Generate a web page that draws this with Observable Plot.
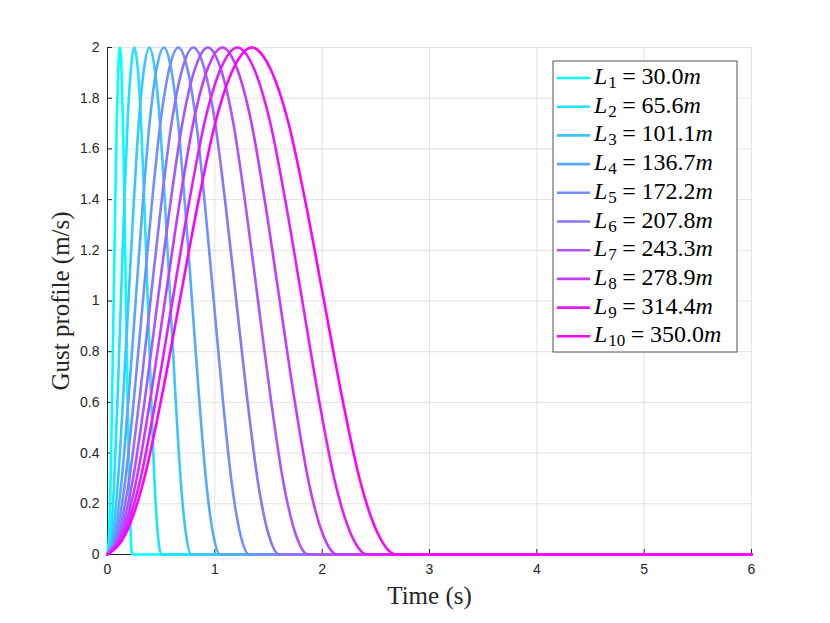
<!DOCTYPE html>
<html><head><meta charset="utf-8">
<script src="https://cdn.jsdelivr.net/npm/d3@7"></script>
<script src="https://cdn.jsdelivr.net/npm/@observablehq/plot@0.6"></script>
<style>body{margin:0;background:#fff}</style>
</head><body><div id="chart"></div>
<script>
// gust lengths (legend) and the time at which each pulse returns to zero
const gustLengths = [30.0, 65.6, 101.1, 136.7, 172.2, 207.8, 243.3, 278.9, 314.4, 350.0];
const gustDurations = [0.23, 0.50, 0.78, 1.05, 1.32, 1.60, 1.87, 2.14, 2.42, 2.69];
// shared pulse shape: fraction of duration -> gust value (m/s)
const profileFraction = [0, 0.0625, 0.125, 0.1875, 0.25, 0.3125, 0.375, 0.4375, 0.5, 0.5625, 0.625, 0.6875, 0.75, 0.8125, 0.875, 0.9375, 1];
const profileValue = [0, 0.08, 0.29, 0.62, 1.00, 1.38, 1.71, 1.92, 2.00, 1.92, 1.71, 1.38, 1.00, 0.62, 0.29, 0.08, 0];
const timeEnd = 6;
const seriesColors = ["#00ffff", "#1ce3ff", "#39c6ff", "#55aaff", "#718eff", "#8e71ff", "#aa55ff", "#c639ff", "#e31cff", "#ff00ff"];
const xTicks = [0, 1, 2, 3, 4, 5, 6];
const yTicks = [0, 0.2, 0.4, 0.6, 0.8, 1, 1.2, 1.4, 1.6, 1.8, 2];
const xLabel = "Time (s)";
const yLabel = "Gust profile (m/s)";

const rows = [];
gustLengths.forEach((L, i) => {
  profileFraction.forEach((f, j) => rows.push({t: f * gustDurations[i], v: profileValue[j], series: i}));
  rows.push({t: timeEnd, v: 0, series: i});
});

const serif = "'Liberation Serif', 'DejaVu Serif', serif";
const W = 830, H = 623, mL = 107, mR = 79, mT = 47, mB = 69;
const innerW = W - mL - mR, innerH = H - mT - mB;

const svg = Plot.plot({
  width: W, height: H,
  marginLeft: mL, marginRight: mR, marginTop: mT, marginBottom: mB,
  x: {domain: [0, timeEnd], label: null},
  y: {domain: [0, 2], label: null},
  color: {domain: d3.range(gustLengths.length), range: seriesColors},
  style: {fontFamily: "'Liberation Sans', Arial, sans-serif", fontSize: "14px", color: "#262626", background: "#fff"},
  marks: [
    Plot.gridX(xTicks, {stroke: "#262626", strokeOpacity: 0.13}),
    Plot.gridY(yTicks, {stroke: "#262626", strokeOpacity: 0.13}),
    Plot.axisX(xTicks, {tickSize: 0, tickPadding: 10, fill: "#262626", tickFormat: d => String(d)}),
    Plot.axisY(yTicks, {tickSize: 0, tickPadding: 8, fill: "#262626", tickFormat: d => String(d)}),
    Plot.tickX(xTicks, {x: d => d, insetTop: innerH - 5, stroke: "#262626"}),
    Plot.tickY(yTicks, {y: d => d, insetRight: innerW - 5, stroke: "#262626"}),
    Plot.ruleX([0], {stroke: "#262626"}),
    Plot.ruleY([0], {stroke: "#262626"}),
    Plot.line(rows, {x: "t", y: "v", z: "series", stroke: "series", strokeWidth: 2.6, curve: "monotone-x"}),
    Plot.text([xLabel], {frameAnchor: "bottom", lineAnchor: "middle", textAnchor: "middle", dy: 41, fontFamily: serif, fontSize: 25, fill: "#262626"}),
    Plot.text([yLabel], {frameAnchor: "left", lineAnchor: "middle", textAnchor: "middle", dx: -47, rotate: -90, fontFamily: serif, fontSize: 25, fill: "#262626"})
  ]
});

// tick labels at MATLAB size
d3.select(svg).selectAll("g[aria-label$='tick label']").attr("font-size", 14).style("font-size", "14px");

// legend (MATLAB-style box, top-right)
const lg = d3.select(svg).append("g").attr("transform", "translate(553,61)").attr("text-anchor", "start");
lg.append("rect").attr("width", 184).attr("height", 291).attr("fill", "#fff").attr("stroke", "#262626").attr("stroke-width", 0.8);
gustLengths.forEach((L, i) => {
  const y = 17 + i * 28.7;
  lg.append("line").attr("x1", 4).attr("x2", 37).attr("y1", y).attr("y2", y)
    .attr("stroke", seriesColors[i]).attr("stroke-width", 2.6);
  const t = lg.append("text").attr("x", 41).attr("y", y + 6)
    .attr("font-family", serif).attr("font-size", 24).attr("fill", "#000");
  t.append("tspan").attr("font-style", "italic").text("L");
  t.append("tspan").attr("font-size", 17).attr("dy", 4).attr("dx", 1).text(String(i + 1));
  t.append("tspan").attr("dy", -4).attr("dx", 5.5).text("=");
  t.append("tspan").attr("dx", 5.5).text(L.toFixed(1));
  t.append("tspan").attr("font-style", "italic").text("m");
});

document.getElementById("chart").appendChild(svg);
</script>
</body></html>
